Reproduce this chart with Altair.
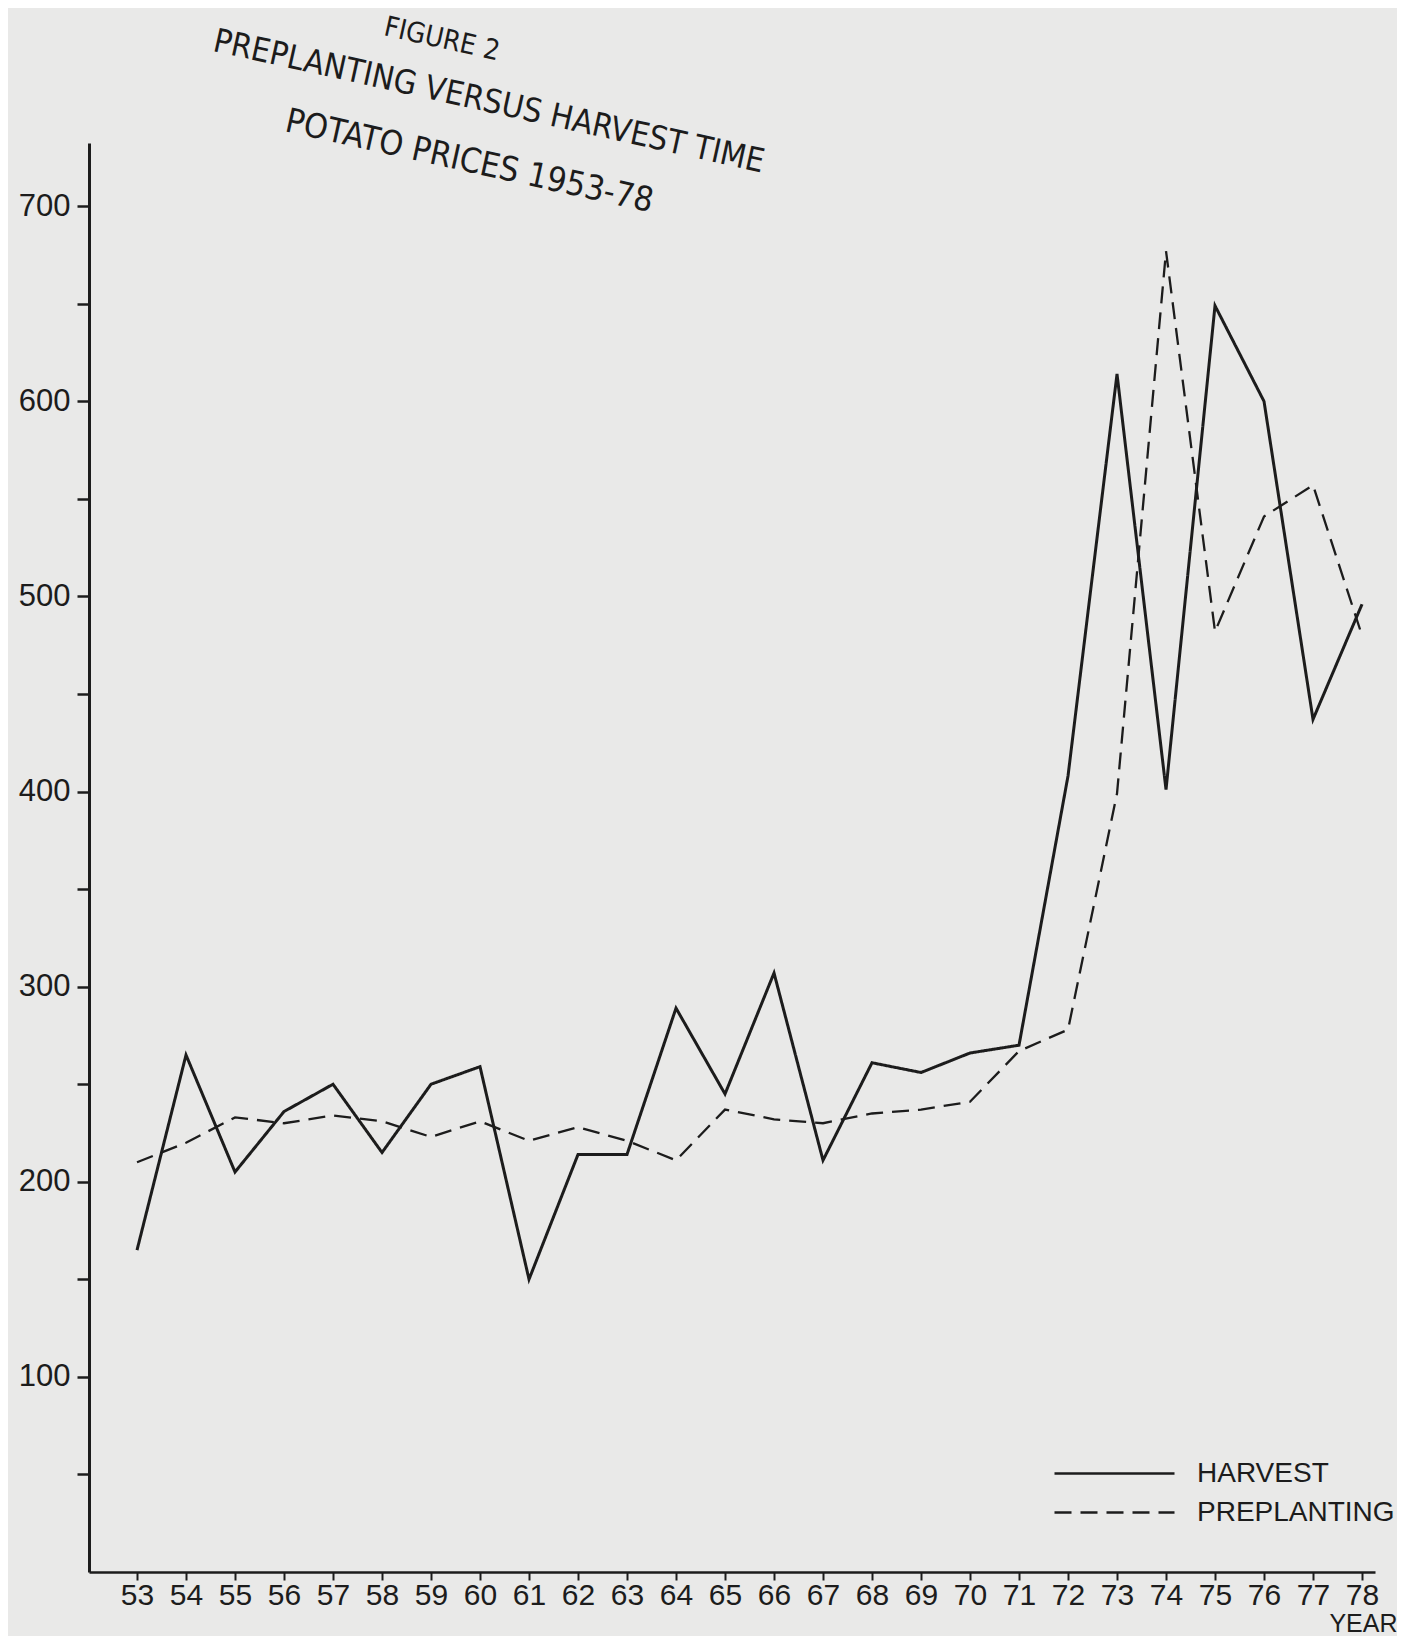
import altair as alt
import pandas as pd

# ---- data ----
years = list(range(53, 79))
harvest = [165, 265, 205, 236, 250, 215, 250, 259, 150, 214, 214, 289, 245,
           307, 211, 261, 256, 266, 270, 408, 614, 401, 649, 600, 437, 496]
preplanting = [210, 220, 233, 230, 234, 231, 223, 231, 221, 228, 221, 211, 237,
               232, 230, 235, 237, 241, 267, 278, 399, 677, 482, 541, 557, 480]
series_names = ["HARVEST", "PREPLANTING"]
y_tick_values = list(range(50, 701, 50))

title_lines = ["FIGURE 2", "PREPLANTING VERSUS HARVEST TIME", "POTATO PRICES 1953-78"]
title_year = [59.22, 60.18, 59.78]
title_price = [785.2, 753.5, 722.7]
title_size = [28, 33, 34]

rows = []
for yr, h, p in zip(years, harvest, preplanting):
    rows.append({"year": yr, "price": h, "series": series_names[0]})
    rows.append({"year": yr, "price": p, "series": series_names[1]})
df = pd.DataFrame(rows)

titles_df = pd.DataFrame({"text": title_lines, "year": title_year,
                          "price": title_price, "size": title_size})

INK = "#1c1c1c"
PAPER = "#e9e9e8"

x_scale = alt.Scale(domain=[52.02, 78.265], nice=False, zero=False)
y_scale = alt.Scale(domain=[0, 732.4], nice=False)
dash_scale = alt.Scale(domain=series_names, range=[[1, 0], [17, 9]])

x_axis = alt.Axis(values=years, format="d", grid=False, labelOverlap=False,
                  domainWidth=2.5, domainColor=INK, tickColor=INK, tickWidth=2,
                  tickSize=8, labelFont="Liberation Sans", labelFontSize=30,
                  labelColor=INK, labelPadding=0, title="YEAR",
                  titleFont="Liberation Sans", titleFontSize=25,
                  titleFontWeight="normal", titleColor=INK, titleX=1308,
                  titleY=59, titleAlign="right", titleBaseline="alphabetic",
                  titleAnchor="end")
y_axis = alt.Axis(values=y_tick_values,
                  labelExpr="datum.value % 100 == 0 ? datum.label : ''",
                  title=None, grid=False, domainWidth=3, domainColor=INK,
                  tickColor=INK, tickWidth=2.5, tickSize=12,
                  labelFont="Liberation Sans", labelFontSize=31,
                  labelColor=INK, labelPadding=7)

legend = alt.Legend(title=None, orient="none", legendX=1009, legendY=1314,
                    symbolType="M-4,0H4", symbolSize=900,
                    symbolStrokeWidth=2.5, symbolStrokeColor=INK,
                    symbolFillColor="transparent", labelFont="Liberation Sans",
                    labelFontSize=28, labelColor=INK, labelOffset=66,
                    rowPadding=8, padding=0, labelLimit=400)

base = alt.Chart(df)

harvest_line = base.transform_filter(
    alt.datum.series == series_names[0]
).mark_line(color=INK, strokeWidth=3).encode(
    x=alt.X("year:Q", scale=x_scale, axis=x_axis),
    y=alt.Y("price:Q", scale=y_scale, axis=y_axis),
    strokeDash=alt.StrokeDash("series:N", scale=dash_scale, legend=legend),
)

pre_line = base.transform_filter(
    alt.datum.series == series_names[1]
).mark_line(color=INK, strokeWidth=2.3).encode(
    x=alt.X("year:Q", scale=x_scale),
    y=alt.Y("price:Q", scale=y_scale),
    strokeDash=alt.StrokeDash("series:N", scale=dash_scale, legend=legend),
)

titles = alt.Chart(titles_df).mark_text(
    angle=12.5, align="center", baseline="middle", color=INK,
    font="DejaVu Sans Condensed, Liberation Sans",
).encode(
    x=alt.X("year:Q", scale=x_scale),
    y=alt.Y("price:Q", scale=y_scale),
    text="text:N",
    size=alt.Size("size:Q", scale=None),
)

chart = alt.layer(harvest_line, pre_line, titles).properties(
    width=1286, height=1429,
    padding={"left": 81, "top": 135, "right": 22, "bottom": 64},
    autosize=alt.AutoSizeParams(type="none"),
    background=PAPER,
).configure_view(strokeWidth=0)

chart.save("out.html", embed_options={"renderer": "svg", "actions": False})
